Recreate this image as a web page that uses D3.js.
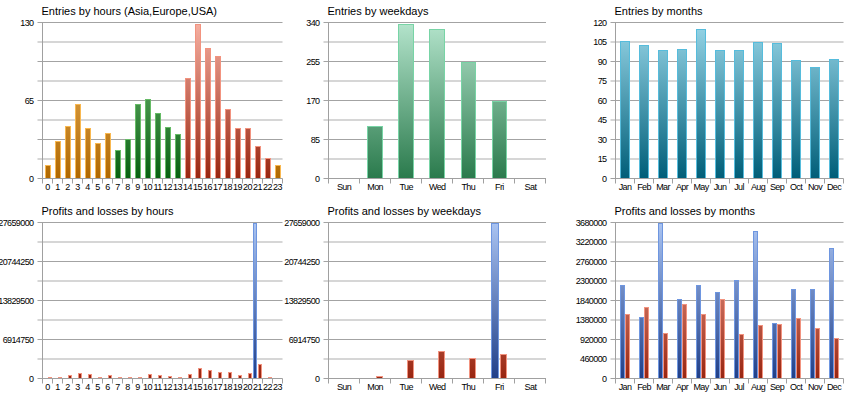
<!DOCTYPE html>
<html><head><meta charset="utf-8">
<script src="https://cdn.jsdelivr.net/npm/d3@7/dist/d3.min.js"></script>
<style>
body{margin:0;background:#fff}
svg{display:block}
text{font-family:"Liberation Sans",Arial,sans-serif}
.tick text{font-size:9px;letter-spacing:-0.6px;fill:#000}
.title{font-size:11px;fill:#000}
</style>
</head><body>
<svg id="c" width="860" height="400"></svg>
<script>
// ---------- data ----------
const hourLabels = ["0","1","2","3","4","5","6","7","8","9","10","11","12","13","14","15","16","17","18","19","20","21","22","23"];
const hourRegions = ["Asia","Asia","Asia","Asia","Asia","Asia","Asia","Europe","Europe","Europe","Europe","Europe","Europe","Europe","USA","USA","USA","USA","USA","USA","USA","USA","USA","Asia"];
const hourEntries = [11,31,44,62,42,30,38,24,33,62,66,55,43,37,84,129,109,102,58,42,42,27,17,11];
const hourEntryTicks = [0,65,130];

const weekdays = ["Sun","Mon","Tue","Wed","Thu","Fri","Sat"];
const weekdayEntries = [0,115,336,325,255,170,0];
const weekdayEntryTicks = [0,85,170,255,340];

const months = ["Jan","Feb","Mar","Apr","May","Jun","Jul","Aug","Sep","Oct","Nov","Dec"];
const monthEntries = [106,103,99,100,115,99,99,105,104,91,86,92];
const monthEntryTicks = [0,15,30,45,60,75,90,105,120];

const hourProfits = [60000,0,0,0,0,0,0,0,0,0,0,0,0,0,0,0,0,0,0,0,60000,27659000,0,0];
const hourLosses = [180000,300000,590000,950000,770000,350000,590000,240000,350000,350000,710000,590000,410000,180000,770000,1950000,1540000,1180000,1180000,650000,890000,2540000,300000,60000];
const plTicks = [0,6914750,13829500,20744250,27659000];

const weekdayProfits = [0,80000,30000,0,30000,27659000,0];
const weekdayLosses = [0,530000,3250000,4960000,3550000,4430000,0];

const monthProfits = [2194000,1439000,3680000,1864000,2194000,2037000,2312000,3468000,1321000,2123000,2100000,3090000];
const monthLosses = [1510000,1683000,1085000,1769000,1533000,1864000,1038000,1258000,1274000,1423000,1187000,951000];
const monthPLTicks = [0,460000,920000,1380000,1840000,2300000,2760000,3220000,3680000];

// ---------- styles ----------
const palette = {
  Asia:   {top:"#f5c070", bottom:"#b06800", stroke:"#f9b850"},
  Europe: {top:"#86c886", bottom:"#066010", stroke:"#66bb66"},
  USA:    {top:"#f6b0a2", bottom:"#982510", stroke:"#f2937f"},
  mint:   {top:"#b4e4cc", bottom:"#2a7a4c", stroke:"#78d4a6"},
  teal:   {top:"#98d6e8", bottom:"#005e78", stroke:"#56bcdc"},
  blue:   {top:"#aac4f2", bottom:"#203f88", stroke:"#6e96e0"},
  loss:   {top:"#f6b0a2", bottom:"#982510", stroke:"#f2937f"}
};

const svg = d3.select("#c");
const defs = svg.append("defs");
let gid = 0;

function panel(o) {
  const g = svg.append("g");
  const pid = gid++;
  const y = d3.scaleLinear().domain([0, o.max]).range([o.bottom, o.top]);
  const x = d3.scaleBand().domain(o.cats).range([o.left, o.right]).padding(0);

  const gradFor = {};
  Object.keys(palette).forEach(k => {
    const id = "g" + pid + k;
    const lg = defs.append("linearGradient").attr("id", id)
      .attr("gradientUnits", "userSpaceOnUse")
      .attr("x1", 0).attr("x2", 0).attr("y1", o.top).attr("y2", o.bottom);
    lg.append("stop").attr("offset", 0).attr("stop-color", palette[k].top);
    lg.append("stop").attr("offset", 1).attr("stop-color", palette[k].bottom);
    gradFor[k] = "url(#" + id + ")";
  });

  // title
  g.append("text").attr("class", "title").attr("x", o.left - 1).attr("y", o.top - 7.5).text(o.title);

  // gridlines (8 intervals; even = dark, odd = light)
  d3.range(1, 9).forEach(i => {
    const v = o.max * i / 8;
    const yy = i % 2 === 0 ? Math.round(y(v) - 0.5) + 0.5 : Math.round(y(v));
    g.append("line")
      .attr("x1", o.left - 5).attr("x2", o.right)
      .attr("y1", yy).attr("y2", yy)
      .attr("stroke", i % 2 === 0 ? "#a3a3a3" : "#d6d6d6")
      .attr("stroke-width", i % 2 === 0 ? 1 : 2);
  });

  // clip
  const cid = "clip" + pid;
  defs.append("clipPath").attr("id", cid).append("rect")
    .attr("x", o.left).attr("y", o.top).attr("width", o.right - o.left).attr("height", o.bottom - o.top + 1);
  const bars = g.append("g").attr("clip-path", "url(#" + cid + ")").attr("shape-rendering", "crispEdges");

  const bw = x.bandwidth();
  o.series.forEach((s, k) => {
    const groupW = bw * o.ratio;
    let w, off;
    if (o.series.length === 1) { w = groupW; off = (bw - groupW) / 2; }
    else {
      const inner = d3.scaleBand().domain(d3.range(o.series.length)).range([0, groupW]).paddingInner(0.12);
      w = inner.bandwidth(); off = (bw - groupW) / 2 + inner(k);
    }
    bars.selectAll(null).data(s.values.map((v, i) => ({v, i}))).join("rect")
      .filter(d => d.v > 0)
      .attr("x", d => x(o.cats[d.i]) + off + 0.5)
      .attr("y", d => y(d.v) + 0.5)
      .attr("width", w - 1)
      .attr("height", d => Math.max(0, y(0) - y(d.v) - 1))
      .attr("fill", d => gradFor[s.color(d.i)])
      .attr("stroke", d => palette[s.color(d.i)].stroke)
      .attr("stroke-width", 1);
  });

  // y axis line
  g.append("line").attr("x1", o.left).attr("x2", o.left).attr("y1", o.top).attr("y2", o.bottom + 5)
    .attr("stroke", "#a0a0a0");
  // x axis line
  g.append("line").attr("x1", o.left - 5).attr("x2", o.right).attr("y1", o.bottom).attr("y2", o.bottom)
    .attr("stroke", "#a0a0a0");
  // boundary ticks
  o.cats.forEach((c, i) => {
    const xx = Math.round(x(c) + bw) - 0.5;
    g.append("line").attr("x1", xx).attr("x2", xx).attr("y1", o.bottom).attr("y2", o.bottom + 5)
      .attr("stroke", "#a0a0a0");
  });

  // y labels
  const ya = g.append("g").attr("transform", `translate(${o.left},0)`)
    .call(d3.axisLeft(y).tickValues(o.ticks).tickSize(0).tickPadding(9).tickFormat(d3.format("d")));
  ya.select(".domain").remove();
  ya.selectAll("text").attr("font-family", null).attr("font-size", null);

  // x labels
  const xa = g.append("g").attr("transform", `translate(0,${o.bottom})`)
    .call(d3.axisBottom(x).tickSize(0).tickPadding(5));
  xa.select(".domain").remove();
  xa.selectAll("text").attr("font-family", null).attr("font-size", null);
}

const topRow = {top: 22.5, bottom: 178.5};
const botRow = {top: 222.5, bottom: 378.5};
const cols = [{left: 42.5, right: 282.5}, {left: 328.5, right: 546}, {left: 615.5, right: 843.5}];

panel({...topRow, ...cols[0], title: "Entries by hours (Asia,Europe,USA)", cats: hourLabels, max: 130, ticks: hourEntryTicks, ratio: 0.6,
  series: [{values: hourEntries, color: i => hourRegions[i]}]});
panel({...topRow, ...cols[1], title: "Entries by weekdays", cats: weekdays, max: 340, ticks: weekdayEntryTicks, ratio: 0.5,
  series: [{values: weekdayEntries, color: () => "mint"}]});
panel({...topRow, ...cols[2], title: "Entries by months", cats: months, max: 120, ticks: monthEntryTicks, ratio: 0.52,
  series: [{values: monthEntries, color: () => "teal"}]});

panel({...botRow, ...cols[0], title: "Profits and losses by hours", cats: hourLabels, max: 27659000, ticks: plTicks, ratio: 0.94,
  series: [{values: hourProfits, color: () => "blue"}, {values: hourLosses, color: () => "loss"}]});
panel({...botRow, ...cols[1], title: "Profits and losses by weekdays", cats: weekdays, max: 27659000, ticks: plTicks, ratio: 0.52,
  series: [{values: weekdayProfits, color: () => "blue"}, {values: weekdayLosses, color: () => "loss"}]});
panel({...botRow, ...cols[2], title: "Profits and losses by months", cats: months, max: 3680000, ticks: monthPLTicks, ratio: 0.52,
  series: [{values: monthProfits, color: () => "blue"}, {values: monthLosses, color: () => "loss"}]});
</script>
</body></html>
